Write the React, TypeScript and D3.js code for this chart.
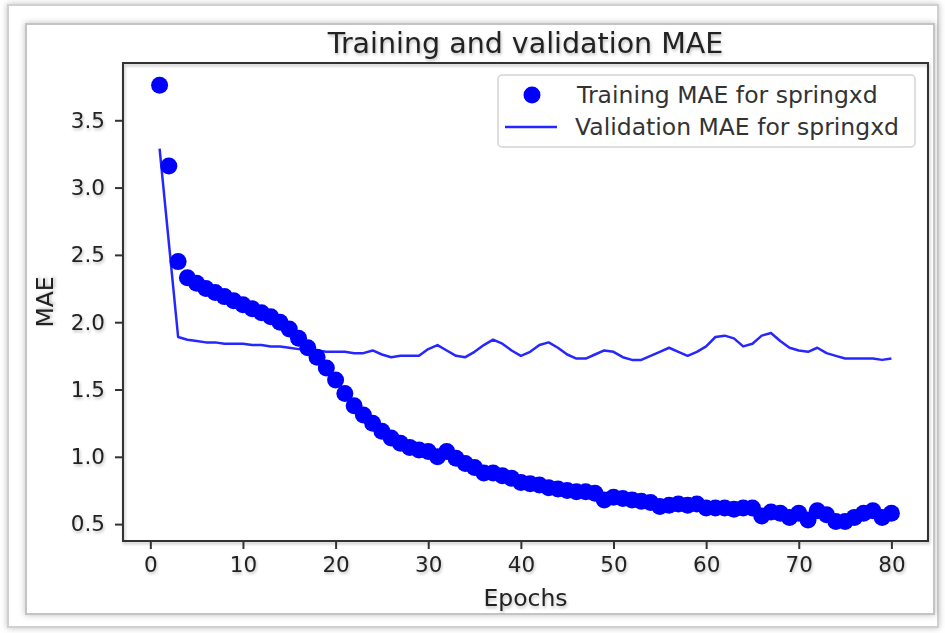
import React, { useEffect, useRef } from 'react'
import * as d3 from 'd3'

// epochs 1..80
const epochs: number[] = d3.range(1, 81)

// training MAE (dots)
const trainMae: number[] = [
  3.76, 3.16, 2.45, 2.33, 2.29, 2.25, 2.22, 2.19, 2.16, 2.13,
  2.10, 2.07, 2.04, 2.00, 1.95, 1.88, 1.81, 1.74, 1.66, 1.57,
  1.47, 1.38, 1.31, 1.25, 1.19, 1.14, 1.10, 1.07, 1.05, 1.04,
  1.00, 1.04, 0.99, 0.95, 0.92, 0.88, 0.88, 0.86, 0.84, 0.81,
  0.80, 0.79, 0.77, 0.76, 0.75, 0.74, 0.74, 0.73, 0.68, 0.70,
  0.69, 0.68, 0.67, 0.66, 0.63, 0.64, 0.65, 0.64, 0.65, 0.62,
  0.62, 0.62, 0.61, 0.62, 0.62, 0.56, 0.59, 0.58, 0.55, 0.58,
  0.53, 0.60, 0.57, 0.52, 0.52, 0.55, 0.58, 0.60, 0.55, 0.58
]

// validation MAE (line)
const valMae: number[] = [
  3.29, 2.59, 1.89, 1.87, 1.86, 1.85, 1.85, 1.84, 1.84, 1.84,
  1.83, 1.83, 1.82, 1.82, 1.81, 1.80, 1.80, 1.79, 1.78, 1.78,
  1.78, 1.77, 1.77, 1.79, 1.76, 1.74, 1.75, 1.75, 1.75, 1.80,
  1.83, 1.79, 1.75, 1.74, 1.78, 1.83, 1.87, 1.84, 1.79, 1.75,
  1.78, 1.83, 1.85, 1.81, 1.76, 1.73, 1.73, 1.76, 1.79, 1.78,
  1.74, 1.72, 1.72, 1.75, 1.78, 1.81, 1.78, 1.75, 1.78, 1.82,
  1.89, 1.90, 1.88, 1.82, 1.84, 1.90, 1.92, 1.86, 1.81, 1.79,
  1.78, 1.81, 1.77, 1.75, 1.73, 1.73, 1.73, 1.73, 1.72, 1.73
]

const xTicks: number[] = [0, 10, 20, 30, 40, 50, 60, 70, 80]
const yTicks: number[] = [0.5, 1.0, 1.5, 2.0, 2.5, 3.0, 3.5]
const legendLabels: string[] = ['Training MAE for springxd', 'Validation MAE for springxd']

const W = 945
const H = 633
const plot = { left: 123, right: 928, top: 63, bottom: 541 }
const BLUE = '#0000ff'
const FONT = '"DejaVu Sans", sans-serif'

export default function App() {
  const ref = useRef<SVGSVGElement>(null)

  useEffect(() => {
    const svg = d3.select(ref.current)
    svg.selectAll('*').remove()

    // soft shadow like the screenshot
    const defs = svg.append('defs')
    const f = defs.append('filter').attr('id', 'shadow').attr('x', '-5%').attr('y', '-5%').attr('width', '110%').attr('height', '110%')
    f.append('feDropShadow').attr('dx', 1).attr('dy', 2).attr('stdDeviation', 1.5)
      .attr('flood-color', '#000').attr('flood-opacity', 0.25)
    const fb = defs.append('filter').attr('id', 'boxshadow').attr('x', '-5%').attr('y', '-5%').attr('width', '110%').attr('height', '110%')
    fb.append('feDropShadow').attr('dx', 0).attr('dy', 0).attr('stdDeviation', 3)
      .attr('flood-color', '#000').attr('flood-opacity', 0.25)

    svg.append('rect').attr('width', W).attr('height', H).attr('fill', '#fff')

    // outer and inner frames
    svg.append('rect').attr('x', 8).attr('y', 5).attr('width', 930).attr('height', 622)
      .attr('fill', '#fff').attr('stroke', '#d0d0d0').attr('stroke-width', 2)
      .attr('filter', 'url(#boxshadow)')
    svg.append('rect').attr('x', 26).attr('y', 24).attr('width', 908).attr('height', 590)
      .attr('fill', '#fff').attr('stroke', '#c4c4c4').attr('stroke-width', 2)
      .attr('filter', 'url(#boxshadow)')

    const x = d3.scaleLinear().domain([-2.95, 83.95]).range([plot.left, plot.right])
    const y = d3.scaleLinear().domain([0.3745, 3.9255]).range([plot.bottom, plot.top])

    const g = svg.append('g')

    // title
    g.append('text')
      .attr('x', (plot.left + plot.right) / 2).attr('y', 53)
      .attr('text-anchor', 'middle')
      .attr('font-family', FONT).attr('font-size', 28.5).attr('fill', '#222')
      .attr('filter', 'url(#shadow)')
      .text('Training and validation MAE')

    // validation line
    const line = d3.line<number>()
      .x((d, i) => x(epochs[i]))
      .y(d => y(d))
    g.append('path')
      .datum(valMae)
      .attr('d', line)
      .attr('fill', 'none')
      .attr('stroke', BLUE)
      .attr('stroke-width', 2.5)
      .attr('stroke-linejoin', 'round')
      .attr('opacity', 0.85)

    // training dots
    g.append('g').selectAll('circle')
      .data(trainMae)
      .enter()
      .append('circle')
      .attr('cx', (d, i) => x(epochs[i]))
      .attr('cy', d => y(d))
      .attr('r', 8.5)
      .attr('fill', BLUE)

    // spines
    g.append('rect')
      .attr('x', plot.left).attr('y', plot.top)
      .attr('width', plot.right - plot.left).attr('height', plot.bottom - plot.top)
      .attr('fill', 'none').attr('stroke', '#333').attr('stroke-width', 2)
      .attr('filter', 'url(#shadow)')

    // x axis
    const xAxis = g.append('g')
      .attr('transform', `translate(0,${plot.bottom})`)
      .call(d3.axisBottom(x).tickValues(xTicks).tickSize(8).tickPadding(8).tickFormat(d3.format('d')))
    xAxis.select('.domain').remove()
    xAxis.selectAll('line').attr('stroke', '#333').attr('stroke-width', 2)
    xAxis.selectAll('text')
      .attr('font-family', FONT).attr('font-size', 21.5).attr('fill', '#222')
      .attr('filter', 'url(#shadow)')

    // y axis
    const yAxis = g.append('g')
      .attr('transform', `translate(${plot.left},0)`)
      .call(d3.axisLeft(y).tickValues(yTicks).tickSize(8).tickPadding(10).tickFormat(d3.format('.1f')))
    yAxis.select('.domain').remove()
    yAxis.selectAll('line').attr('stroke', '#333').attr('stroke-width', 2)
    yAxis.selectAll('text')
      .attr('font-family', FONT).attr('font-size', 21.5).attr('fill', '#222')
      .attr('filter', 'url(#shadow)')

    // axis labels
    g.append('text')
      .attr('x', (plot.left + plot.right) / 2).attr('y', 606)
      .attr('text-anchor', 'middle')
      .attr('font-family', FONT).attr('font-size', 23.5).attr('fill', '#222')
      .attr('filter', 'url(#shadow)')
      .text('Epochs')
    g.append('text')
      .attr('transform', `translate(53,${(plot.top + plot.bottom) / 2}) rotate(-90)`)
      .attr('text-anchor', 'middle')
      .attr('font-family', FONT).attr('font-size', 23.5).attr('fill', '#222')
      .attr('filter', 'url(#shadow)')
      .text('MAE')

    // legend
    const lg = g.append('g').attr('transform', 'translate(498,75)')
    lg.append('rect')
      .attr('width', 417).attr('height', 72).attr('rx', 4)
      .attr('fill', '#fff').attr('fill-opacity', 0.8)
      .attr('stroke', '#d4d4d4').attr('stroke-width', 1.5)
    lg.append('circle').attr('cx', 34).attr('cy', 20).attr('r', 8.5).attr('fill', BLUE)
    lg.append('line').attr('x1', 7).attr('x2', 59).attr('y1', 52).attr('y2', 52)
      .attr('stroke', BLUE).attr('stroke-width', 2.5).attr('opacity', 0.85)
    lg.selectAll('text.lab')
      .data(legendLabels)
      .enter()
      .append('text')
      .attr('class', 'lab')
      .attr('x', (d, i) => (i === 0 ? 79 : 77))
      .attr('y', (d, i) => 28 + i * 32)
      .attr('font-family', FONT).attr('font-size', 23.5).attr('fill', '#333')
      .text(d => d)
  }, [])

  return (
    <svg ref={ref} width={W} height={H} style={{ position: 'absolute', left: 0, top: 0 }} />
  )
}
